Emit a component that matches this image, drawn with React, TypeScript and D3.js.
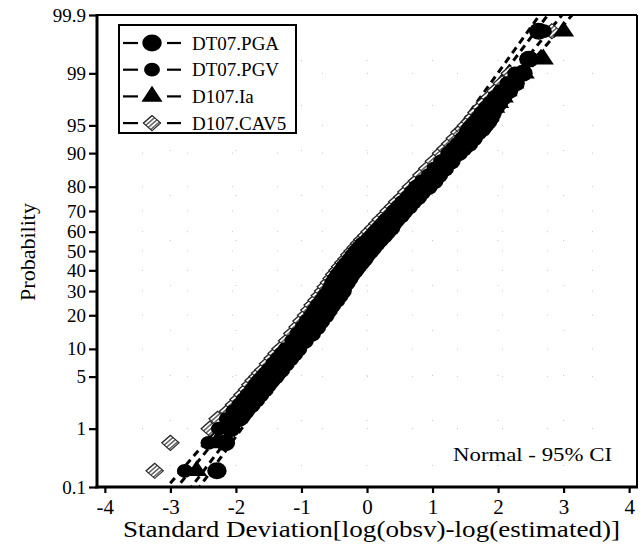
import React, { useRef, useEffect } from "react";
import * as d3 from "d3";

const seriesNames = ["DT07.PGA", "DT07.PGV", "D107.Ia", "D107.CAV5"];

// plotting positions (%) shared by the four series
const probs = [
  0.2, 0.6, 1.0, 1.4, 1.8, 2.2, 2.6, 3, 3.5, 4, 4.5, 5, 5.5, 6, 7, 8, 9,
  10, 12, 14, 16, 18, 20, 22, 24, 26, 28, 30, 32, 34, 36, 38, 40, 42, 44, 46, 48,
  50, 52, 54, 56, 58, 60, 62, 64, 66, 68, 70, 72, 74, 76, 78, 80, 82, 84, 86, 88, 90,
  91, 92, 93, 94, 94.5, 95, 95.5, 96, 96.5, 97, 97.4, 97.8, 98.2, 98.6, 99, 99.4, 99.8,
];

// sorted standardised residuals
const pgaValues = [
  -2.29, -2.16, -2.08, -1.96, -1.86, -1.77, -1.7, -1.64, -1.57, -1.52, -1.47, -1.41, -1.37, -1.32, -1.25, -1.18, -1.12,
  -1.06, -0.96, -0.85, -0.77, -0.71, -0.64, -0.59, -0.54, -0.48, -0.43, -0.38, -0.37, -0.32, -0.28, -0.24, -0.19, -0.15, -0.1, -0.05, -0.01,
  0.04, 0.09, 0.14, 0.19, 0.25, 0.3, 0.36, 0.39, 0.44, 0.51, 0.56, 0.63, 0.69, 0.77, 0.83, 0.93, 1.02, 1.09, 1.18, 1.28, 1.39,
  1.46, 1.55, 1.62, 1.69, 1.75, 1.79, 1.84, 1.88, 1.91, 1.96, 2.01, 2.07, 2.16, 2.26, 2.38, 2.47, 2.62,
];
const pgvValues = [
  -2.78, -2.42, -2.26, -2.14, -2.04, -1.95, -1.88, -1.82, -1.75, -1.7, -1.65, -1.59, -1.55, -1.5, -1.43, -1.36, -1.3,
  -1.24, -1.14, -1.06, -0.98, -0.92, -0.85, -0.8, -0.75, -0.69, -0.64, -0.59, -0.55, -0.53, -0.49, -0.45, -0.4, -0.36, -0.31, -0.26, -0.22,
  -0.17, -0.12, -0.07, 0.01, 0.07, 0.12, 0.18, 0.24, 0.29, 0.36, 0.41, 0.48, 0.54, 0.62, 0.68, 0.75, 0.84, 0.94, 1.03, 1.13, 1.24,
  1.31, 1.38, 1.45, 1.52, 1.55, 1.59, 1.65, 1.7, 1.75, 1.82, 1.88, 1.95, 2.04, 2.14, 2.26, 2.45, 2.7,
];
const iaValues = [
  -2.6, -2.3, -2.16, -2.04, -1.94, -1.85, -1.78, -1.75, -1.68, -1.63, -1.58, -1.52, -1.48, -1.43, -1.36, -1.29, -1.2,
  -1.14, -1.04, -0.96, -0.88, -0.82, -0.75, -0.7, -0.65, -0.59, -0.54, -0.49, -0.45, -0.4, -0.36, -0.32, -0.24, -0.2, -0.15, -0.1, -0.06,
  -0.01, 0.04, 0.09, 0.14, 0.2, 0.22, 0.28, 0.34, 0.39, 0.46, 0.51, 0.58, 0.64, 0.72, 0.78, 0.85, 0.94, 1.01, 1.1, 1.2, 1.31,
  1.38, 1.48, 1.55, 1.62, 1.68, 1.72, 1.78, 1.83, 1.88, 1.95, 2.01, 2.08, 2.14, 2.24, 2.4, 2.69, 3.0,
];
const cav5Values = [
  -3.24, -3.0, -2.4, -2.28, -2.12, -2.03, -1.96, -1.9, -1.83, -1.78, -1.73, -1.67, -1.63, -1.58, -1.51, -1.44, -1.38,
  -1.32, -1.22, -1.14, -1.06, -1.0, -0.93, -0.88, -0.83, -0.77, -0.72, -0.67, -0.63, -0.58, -0.54, -0.5, -0.45, -0.41, -0.36, -0.31, -0.27,
  -0.22, -0.17, -0.12, -0.07, -0.01, 0.04, 0.1, 0.16, 0.21, 0.28, 0.33, 0.4, 0.46, 0.54, 0.6, 0.67, 0.76, 0.83, 0.92, 1.02, 1.13,
  1.2, 1.27, 1.34, 1.41, 1.47, 1.51, 1.57, 1.62, 1.67, 1.74, 1.8, 1.87, 1.96, 2.06, 2.18, 2.53, 2.82,
];

// fitted normal lines (mean, sd) for each series
const fitMean = [0.04, 0.04, 0.04, 0.04];
const fitSd = [0.84, 0.88, 1.0, 0.95];

const xTicks = [-4, -3, -2, -1, 0, 1, 2, 3, 4];
const yTicks = [0.1, 1, 5, 10, 20, 30, 40, 50, 60, 70, 80, 90, 95, 99, 99.9];

// inverse normal cdf (Acklam)
function probit(p: number): number {
  const a = [-39.69683028665376, 220.9460984245205, -275.9285104469687, 138.357751867269, -30.66479806614716, 2.506628277459239];
  const b = [-54.47609879822406, 161.5858368580409, -155.6989798598866, 66.80131188771972, -13.28068155288572];
  const c = [-0.007784894002430293, -0.3223964580411365, -2.400758277161838, -2.549732539343734, 4.374664141464968, 2.938163982698783];
  const d = [0.007784695709041462, 0.3224671290700398, 2.445134137142996, 3.754408661907416];
  const plow = 0.02425;
  if (p < plow) {
    const q = Math.sqrt(-2 * Math.log(p));
    return (((((c[0] * q + c[1]) * q + c[2]) * q + c[3]) * q + c[4]) * q + c[5]) /
      ((((d[0] * q + d[1]) * q + d[2]) * q + d[3]) * q + 1);
  }
  if (p > 1 - plow) {
    const q = Math.sqrt(-2 * Math.log(1 - p));
    return -(((((c[0] * q + c[1]) * q + c[2]) * q + c[3]) * q + c[4]) * q + c[5]) /
      ((((d[0] * q + d[1]) * q + d[2]) * q + d[3]) * q + 1);
  }
  const q = p - 0.5;
  const r = q * q;
  return (((((a[0] * r + a[1]) * r + a[2]) * r + a[3]) * r + a[4]) * r + a[5]) * q /
    (((((b[0] * r + b[1]) * r + b[2]) * r + b[3]) * r + b[4]) * r + 1);
}

const font = "'Liberation Serif', 'Times New Roman', serif";

const App = () => {
  const svgRef = useRef<SVGSVGElement>(null);

  useEffect(() => {
    const svg = d3.select(svgRef.current);
    svg.selectAll("*").remove();

    const left = 97, right = 637, top = 15, bottom = 487;

    const x = d3.scaleLinear().domain([-4.12, 4.12]).range([left, right]);
    const y = d3.scaleLinear().domain([probit(0.001), probit(0.999)]).range([bottom, top]);
    const py = (pct: number) => y(probit(pct / 100));

    svg.append("rect").attr("width", 644).attr("height", 549).attr("fill", "#fff");

    const defs = svg.append("defs");
    defs.append("clipPath").attr("id", "plotClip")
      .append("rect").attr("x", left).attr("y", top)
      .attr("width", right - left).attr("height", bottom - top);
    const hatch = defs.append("pattern").attr("id", "hatch")
      .attr("patternUnits", "userSpaceOnUse").attr("width", 3).attr("height", 3);
    hatch.append("rect").attr("width", 3).attr("height", 3).attr("fill", "#fff");
    hatch.append("rect").attr("width", 1.5).attr("height", 3).attr("fill", "#6a6a6a");

    // faint dotted grid
    const grid = svg.append("g").attr("stroke", "#c8c8c8").attr("stroke-width", 1)
      .attr("stroke-dasharray", "1,44");
    grid.selectAll("line.v").data(xTicks.slice(1, -1)).join("line")
      .attr("x1", (d) => x(d)).attr("x2", (d) => x(d)).attr("y1", top).attr("y2", bottom);
    grid.selectAll("line.h").data(yTicks.slice(1, -1)).join("line")
      .attr("x1", left).attr("x2", right).attr("y1", (d) => py(d)).attr("y2", (d) => py(d));

    // marker styles for the four series
    const shapes = [
      { type: d3.symbolCircle, size: 225, rot: 0 },
      { type: d3.symbolCircle, size: 150, rot: 0 },
      { type: d3.symbolTriangle, size: 145, rot: 0 },
      { type: d3.symbolSquare, size: 115, rot: 45 },
    ];
    const fills = ["#000", "#000", "#000", "url(#hatch)"];
    const strokes = ["none", "none", "none", "#222"];

    const series = [pgaValues, pgvValues, iaValues, cav5Values].map((vals, i) => ({
      name: seriesNames[i],
      points: vals.map((v, j) => ({ v, p: probs[j] })),
    }));

    const plot = svg.append("g").attr("clip-path", "url(#plotClip)");

    // fitted lines, under the markers
    series.forEach((s, i) => {
      const z0 = -3.4, z1 = 3.4;
      plot.append("line")
        .attr("x1", x(fitMean[i] + fitSd[i] * z0)).attr("y1", y(z0))
        .attr("x2", x(fitMean[i] + fitSd[i] * z1)).attr("y2", y(z1))
        .attr("stroke", "#000").attr("stroke-width", 3)
        .attr("stroke-dasharray", "7,5");
    });

    [3, 2, 1, 0].forEach((si) => {
      const s = shapes[si];
      const path = d3.symbol().type(s.type).size(s.size)();
      plot.append("g").selectAll("path").data(series[si].points).join("path")
        .attr("d", path)
        .attr("transform", (d) => `translate(${x(d.v)},${py(d.p)}) scale(1.15,1) rotate(${s.rot})`)
        .attr("fill", fills[si])
        .attr("stroke", strokes[si])
        .attr("stroke-width", 1);
    });

    // axes
    const xAxis = svg.append("g").attr("transform", `translate(0,${bottom + 1})`)
      .call(d3.axisBottom(x).tickValues(xTicks).tickSize(5).tickPadding(6).tickFormat((d) => `${d}`));
    const yAxis = svg.append("g").attr("transform", `translate(${left - 1},0)`)
      .call(d3.axisLeft(y).tickValues(yTicks.map((p) => probit(p / 100)))
        .tickSize(7).tickPadding(3).tickFormat((d, i) => `${yTicks[i]}`));
    [xAxis, yAxis].forEach((g) => {
      g.select(".domain").remove();
      g.selectAll("line").attr("stroke", "#000").attr("stroke-width", 2.2);
      g.selectAll("text").attr("fill", "#000").attr("font-family", font);
    });
    xAxis.selectAll("text").attr("font-size", 21);
    yAxis.selectAll("text").attr("font-size", 19);

    // frame
    const frame = svg.append("g").attr("stroke", "#000").attr("fill", "none");
    frame.append("line").attr("x1", left).attr("x2", right).attr("y1", top).attr("y2", top).attr("stroke-width", 2);
    frame.append("line").attr("x1", right).attr("x2", right).attr("y1", top).attr("y2", bottom).attr("stroke-width", 2);
    frame.append("line").attr("x1", left).attr("x2", left).attr("y1", top - 1).attr("y2", bottom + 1.5).attr("stroke-width", 3);
    frame.append("line").attr("x1", left - 1.5).attr("x2", right + 1).attr("y1", bottom).attr("y2", bottom).attr("stroke-width", 3);

    // legend
    const lg = svg.append("g");
    lg.append("rect").attr("x", 119).attr("y", 25).attr("width", 177).attr("height", 108)
      .attr("fill", "#fff").attr("stroke", "#000").attr("stroke-width", 2);
    series.forEach((s, i) => {
      const cy = 43 + i * 26.7;
      const row = lg.append("g");
      row.append("line").attr("x1", 123).attr("x2", 138).attr("y1", cy).attr("y2", cy)
        .attr("stroke", "#000").attr("stroke-width", 2.2);
      row.append("line").attr("x1", 167).attr("x2", 181).attr("y1", cy).attr("y2", cy)
        .attr("stroke", "#000").attr("stroke-width", 2.2);
      const sh = shapes[i];
      row.append("path").attr("d", d3.symbol().type(sh.type).size(sh.size)())
        .attr("transform", `translate(152,${cy}) scale(1.15,1) rotate(${sh.rot})`)
        .attr("fill", fills[i]).attr("stroke", strokes[i]).attr("stroke-width", 1);
      row.append("text").attr("x", 192).attr("y", cy + 6.5)
        .attr("font-family", font).attr("font-size", 19).attr("fill", "#000")
        .text(s.name);
    });

    // annotation and axis titles
    svg.append("text").attr("x", 453).attr("y", 461)
      .attr("font-family", font).attr("font-size", 19).attr("fill", "#000")
      .attr("textLength", 159).attr("lengthAdjust", "spacingAndGlyphs")
      .text("Normal - 95% CI");
    svg.append("text").attr("transform", "translate(35,252) rotate(-90)")
      .attr("text-anchor", "middle").attr("font-family", font).attr("font-size", 22).attr("fill", "#000")
      .text("Probability");
    svg.append("text").attr("x", 123).attr("y", 537)
      .attr("font-family", font).attr("font-size", 23).attr("fill", "#000")
      .attr("textLength", 497).attr("lengthAdjust", "spacingAndGlyphs")
      .text("Standard Deviation[log(obsv)-log(estimated)]");
  }, []);

  return (
    <div style={{ position: "absolute", left: 0, top: 0 }}>
      <svg ref={svgRef} width={644} height={549} />
    </div>
  );
};

export default App;
